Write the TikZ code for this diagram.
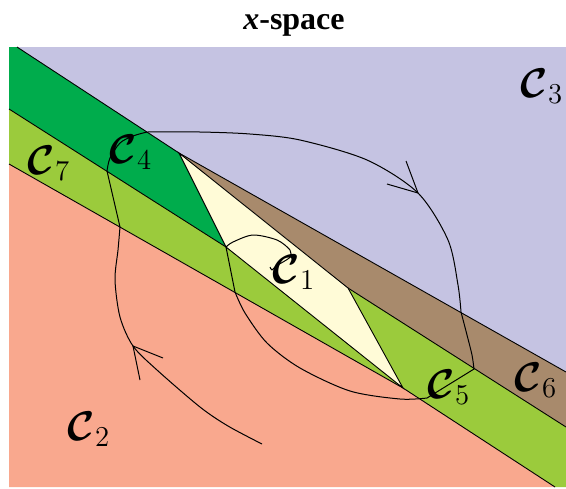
\documentclass[tikz,border=0pt]{standalone}
\usepackage{amsmath}
\usepackage{fontspec}
\setmainfont{Liberation Serif}
\usetikzlibrary{positioning}
\definecolor{lavFill}{HTML}{C5C3E2}
\definecolor{dgFill}{HTML}{00AC4C}
\definecolor{lgFill}{HTML}{9BCB3C}
\definecolor{brFill}{HTML}{A88A6C}
\definecolor{ylFill}{HTML}{FFFBD7}
\definecolor{pkFill}{HTML}{F9A88E}
\newcommand{\cell}[1]{$\boldsymbol{\mathcal{C}}_{#1}$}

\begin{document}
\begin{tikzpicture}[
  x=0.5pt, y=-0.5pt,
  edge/.style ={draw=black, line width=0.45pt},
  traj/.style ={draw=black, line width=0.5pt},
  lbl/.style  ={font=\huge, inner sep=0pt},
  ttl/.style  ={font=\fontsize{16}{19}\selectfont\bfseries},
]
\useasboundingbox (0,0) rectangle (566,488);

% corners where the cells meet
\coordinate (A) at (179,153);
\coordinate (B) at (226,247);
\coordinate (C) at (348,288);
\coordinate (D) at (403,388);

% ==================== cells ====================
\fill[lavFill] (17,47) -- (566,47) -- (566,372) -- (A) -- cycle;
\fill[dgFill] (9,47) -- (17,47) -- (A) -- (B) -- (9,109) -- cycle;
\fill[brFill] (A) -- (566,372) -- (566,427) -- (C) -- cycle;
\fill[ylFill] (A) -- (C) -- (D) -- (B) -- cycle;
\fill[lgFill] (9,109) -- (B) -- (D) -- (9,164) -- cycle;
\fill[lgFill] (D) -- (C) -- (566,427) -- (566,487) -- (555,487) -- cycle;
\fill[pkFill] (9,164) -- (D) -- (555,487) -- (9,487) -- cycle;

% boundaries
\draw[edge] (17,47) -- (A) -- (566,372);
\draw[edge] (9,109) -- (B);
\draw[edge] (C) -- (566,427);
\draw[edge] (9,164) -- (D) -- (555,487);
\draw[edge] (A) -- (C) -- (D) -- (B) -- cycle;

% ==================== trajectory ====================
\draw[traj] plot[smooth] coordinates {(262,444) (228,426) (200,407) (157,370) (133,346) (120,317) (115,280) (118,250) (120,227)}
  -- (107,171)
  -- plot[smooth] coordinates {(107,171) (110,158) (120,143) (133,136) (147,132)}
  -- plot[smooth] coordinates {(147,132) (200,132) (250,134) (300,140) (367,160) (418,193) (448,240) (458,285) (461,312)}
  -- plot[smooth] coordinates {(461,312) (467,335) (472,355) (474,369)}
  -- (427,398)
  -- plot[smooth] coordinates {(427,398) (400,399) (350,391) (300,368) (267,343) (245,313) (235,292)}
  -- (B)
  -- plot[smooth] coordinates {(226,247) (233,242) (253,235) (277,240) (290,250) (290,257) (283,262) (276,266) (272,270) (270,267)};

% arrow heads
\draw[traj] (163,358) -- (133,346) -- (140,380);
\draw[traj] (387,184) -- (418,193) -- (406,161);

% ==================== labels ====================
\node[ttl] (title) at (294,25) {\textit{x}-space};
\node[lbl] (c1) at (294,272) {\cell{1}};
\node[lbl] (c2) at (89,429)  {\cell{2}};
\node[lbl] (c3) at (542,86)  {\cell{3}};
\node[lbl] (c4) at (131,152) {\cell{4}};
\node[lbl] (c5) at (449,387) {\cell{5}};
\node[lbl] (c6) at (536,380) {\cell{6}};
\node[lbl] (c7) at (49,163)  {\cell{7}};

\end{tikzpicture}
\end{document}
